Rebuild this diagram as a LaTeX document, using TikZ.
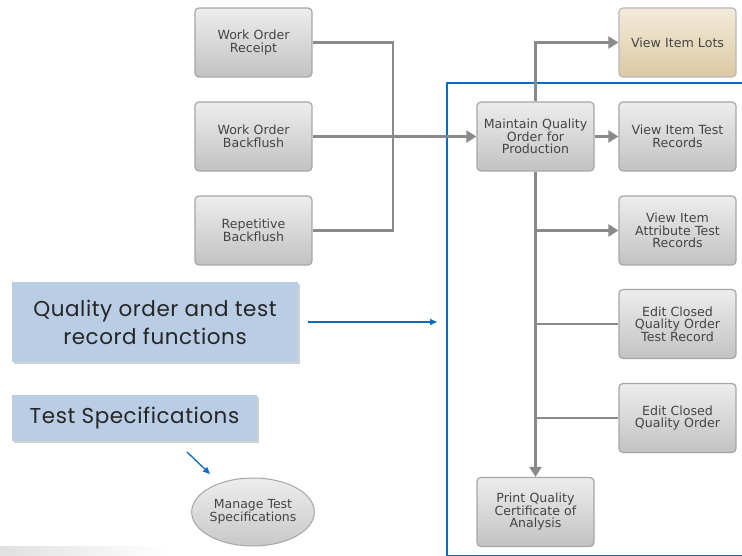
\documentclass[tikz,border=0pt]{standalone}
\usepackage{fontspec}
\usetikzlibrary{arrows.meta,shadows,shapes.geometric}
\newfontfamily\boxfont{DejaVu Sans}
\newfontfamily\callfont[LetterSpace=2.5]{Poppins}
\definecolor{boxtext}{HTML}{444444}
\definecolor{boxline}{HTML}{A6A6A6}
\definecolor{boxtop}{HTML}{EDEDED}
\definecolor{boxbot}{HTML}{C2C2C2}
\definecolor{tantop}{HTML}{F3EBDA}
\definecolor{tanbot}{HTML}{DCC9A4}
\definecolor{flowline}{HTML}{8A8A8A}
\definecolor{frameblue}{HTML}{0A6CC0}
\definecolor{callfill}{HTML}{B9CDE5}
\tikzset{
  x=1pt, y=-1pt,
  taskbox/.style={draw=boxline, line width=1.2pt, rounded corners=4pt,
    top color=boxtop, bottom color=boxbot, text=boxtext,
    font=\boxfont\fontsize{12.6}{12.5}\selectfont, align=center,
    minimum width=117pt, minimum height=69pt, text width=114pt, inner sep=1pt},
  tanbox/.style={taskbox, top color=tantop, bottom color=tanbot, draw=boxline!80},
  flow/.style={draw=flowline, line width=2.2pt,
    -{Triangle[length=10pt,width=12pt]}},
  link/.style={draw=flowline, line width=2.2pt},
  callout/.style={fill=callfill, draw=none, text=black!85,
    font=\callfont\fontsize{21.5}{28}\selectfont, align=center,
    drop shadow={shadow xshift=1.5pt, shadow yshift=-2pt, opacity=0.35}},
  pointer/.style={draw=frameblue, line width=1.3pt,
    -{Triangle[length=7pt,width=6pt]}},
}
\begin{document}
\begin{tikzpicture}
\useasboundingbox (0,0) rectangle (742,556);
\fill[white] (0,0) rectangle (742,556);
\shade[left color=black!12, right color=white] (0,546) rectangle (168,556);

% source transactions
\node[taskbox] (wor) at (253.5,42.5) {Work Order\\Receipt};
\node[taskbox] (wob) at (253.5,136.5) {Work Order\\Backflush};
\node[taskbox] (rb)  at (253.5,230.5) {Repetitive\\Backflush};

% quality order functions
\node[taskbox] (mq)  at (535.5,136.5) {Maintain Quality\\Order for\\Production};
\node[tanbox]  (vil) at (677.5,42.5) {View Item Lots};
\node[taskbox] (vtr) at (677.5,136.5) {View Item Test\\Records};
\node[taskbox] (vat) at (677.5,230.5) {View Item\\Attribute Test\\Records};
\node[taskbox] (ectr) at (677.5,324) {Edit Closed\\Quality Order\\Test Record};
\node[taskbox] (ecq) at (677.5,418) {Edit Closed\\Quality Order};
\node[taskbox] (pqc) at (535.5,512) {Print Quality\\Certificate of\\Analysis};

% frame around the quality order group
\node[draw=frameblue, line width=2.4pt, minimum width=300pt, minimum height=473pt,
      inner sep=0pt] (frame) at (597,319.5) {};

% connectors
\coordinate (join) at (393,136.5);
\draw[link] (wor.east) -| (join);
\draw[link] (rb.east) -| (join);
\draw[flow] (wob.east) -- (mq.west);
\draw[flow] (mq.north) |- (vil.west);
\draw[flow] (mq.east) -- (vtr.west);
\draw[flow] (mq.south) -- (pqc.north);
\draw[flow] (vat.west -| mq.south) -- (vat.west);
\draw[link] (ectr.west -| mq.south) -- (ectr.west);
\draw[link] (ecq.west -| mq.south) -- (ecq.west);

% callouts
\node[callout, minimum width=286pt, minimum height=80pt] (qo) at (155,322)
  {Quality order and test\\record functions};
\node[callout, minimum width=245pt, minimum height=46pt] (ts) at (134.5,418)
  {Test Specifications};
\node[ellipse, draw=boxline, line width=1pt, top color=boxtop, bottom color=boxbot!90,
      minimum width=118pt, minimum height=68pt, text=boxtext, align=center,
      font=\boxfont\fontsize{12.5}{13}\selectfont, inner sep=0pt] (mts) at (253,512)
  {Manage Test\\Specifications};

\coordinate (qoA) at (308,322);
\coordinate (qoB) at (437,322);
\draw[pointer] (qoA) -- (qoB);
\coordinate (tsA) at (187,452);
\coordinate (tsB) at (210,474);
\draw[pointer] (tsA) -- (tsB);
\end{tikzpicture}
\end{document}
